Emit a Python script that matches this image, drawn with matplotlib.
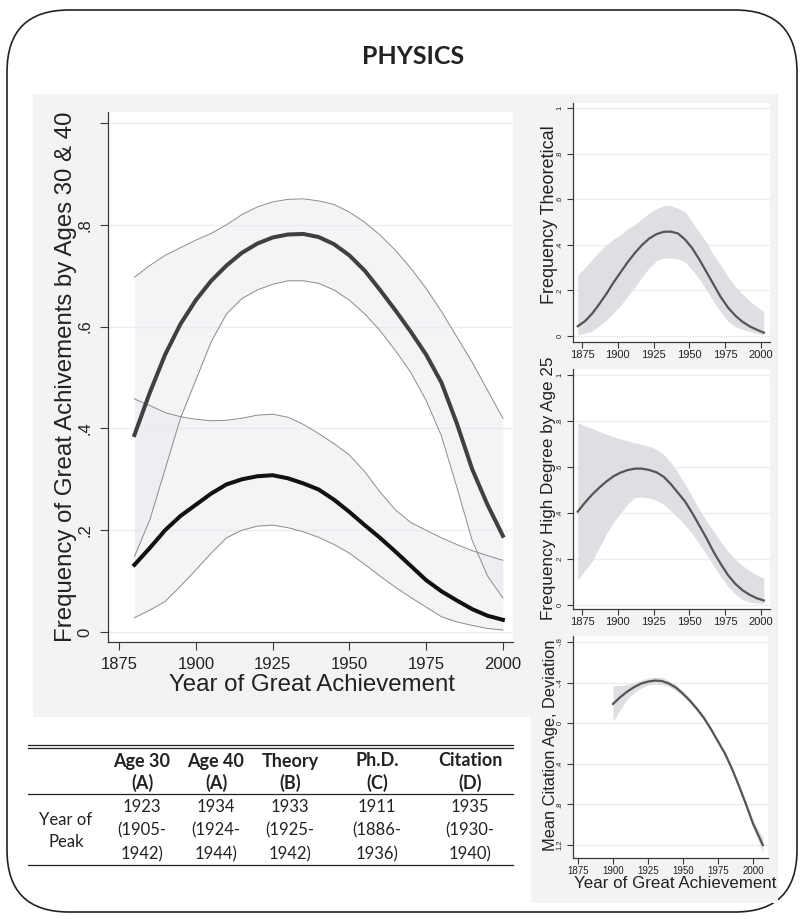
import matplotlib
matplotlib.use("Agg")
import matplotlib.pyplot as plt
from matplotlib.patches import FancyBboxPatch, Polygon

W, H = 802, 919

# ---- panel A: age 30 / age 40 achievement frequency ----
YEARS_A = [1880, 1885, 1890, 1895, 1900, 1905, 1910, 1915, 1920, 1925, 1930, 1935,
           1940, 1945, 1950, 1955, 1960, 1965, 1970, 1975, 1980, 1985, 1990, 1995, 2000]
AGE30_MEAN = [0.132, 0.165, 0.200, 0.228, 0.250, 0.272, 0.290, 0.300, 0.306, 0.308, 0.302, 0.292,
              0.280, 0.260, 0.236, 0.210, 0.185, 0.158, 0.130, 0.102, 0.080, 0.062, 0.045, 0.032, 0.024]
AGE30_HI = [0.458, 0.445, 0.431, 0.423, 0.418, 0.415, 0.416, 0.420, 0.426, 0.428, 0.422, 0.408,
            0.390, 0.370, 0.348, 0.315, 0.275, 0.240, 0.215, 0.200, 0.185, 0.172, 0.160, 0.150, 0.141]
AGE30_LO = [0.028, 0.043, 0.060, 0.090, 0.122, 0.155, 0.185, 0.200, 0.208, 0.210, 0.205, 0.197,
            0.186, 0.172, 0.155, 0.133, 0.110, 0.088, 0.068, 0.049, 0.030, 0.020, 0.013, 0.007, 0.004]
AGE40_MEAN = [0.387, 0.470, 0.545, 0.605, 0.652, 0.690, 0.720, 0.745, 0.763, 0.775, 0.781, 0.782,
              0.776, 0.762, 0.740, 0.710, 0.672, 0.632, 0.590, 0.545, 0.490, 0.410, 0.320, 0.250, 0.189]
AGE40_HI = [0.697, 0.720, 0.740, 0.755, 0.770, 0.783, 0.800, 0.820, 0.835, 0.845, 0.850, 0.851,
            0.847, 0.840, 0.825, 0.805, 0.780, 0.750, 0.715, 0.675, 0.630, 0.580, 0.530, 0.475, 0.420]
AGE40_LO = [0.148, 0.220, 0.320, 0.420, 0.495, 0.570, 0.625, 0.655, 0.672, 0.683, 0.690, 0.690,
            0.685, 0.672, 0.652, 0.625, 0.592, 0.553, 0.510, 0.455, 0.385, 0.285, 0.180, 0.110, 0.067]

# ---- panels B and C share a year grid ----
YEARS_BC = [1872, 1877, 1882, 1887, 1892, 1897, 1902, 1907, 1912, 1917, 1922, 1927, 1932, 1937,
            1942, 1947, 1952, 1957, 1962, 1967, 1972, 1977, 1982, 1987, 1992, 1997, 2002]
THEORY_MEAN = [0.043, 0.065, 0.098, 0.140, 0.185, 0.235, 0.280, 0.325, 0.365, 0.400, 0.428, 0.447, 0.457,
               0.458, 0.450, 0.423, 0.385, 0.335, 0.280, 0.225, 0.170, 0.125, 0.090, 0.063, 0.043, 0.028, 0.015]
THEORY_HI = [0.267, 0.300, 0.335, 0.370, 0.400, 0.425, 0.445, 0.470, 0.490, 0.515, 0.540, 0.558, 0.572,
             0.572, 0.560, 0.545, 0.500, 0.455, 0.410, 0.355, 0.310, 0.260, 0.220, 0.185, 0.155, 0.130, 0.106]
THEORY_LO = [0.006, 0.012, 0.022, 0.045, 0.070, 0.100, 0.135, 0.175, 0.215, 0.260, 0.300, 0.330, 0.342,
             0.342, 0.338, 0.325, 0.290, 0.250, 0.200, 0.150, 0.105, 0.065, 0.040, 0.030, 0.020, 0.012, 0.006]
PHD_MEAN = [0.406, 0.445, 0.480, 0.510, 0.537, 0.560, 0.576, 0.587, 0.593, 0.593, 0.587, 0.577, 0.558,
            0.526, 0.488, 0.450, 0.400, 0.345, 0.290, 0.230, 0.178, 0.130, 0.093, 0.065, 0.045, 0.030, 0.020]
PHD_HI = [0.793, 0.780, 0.768, 0.755, 0.743, 0.732, 0.722, 0.713, 0.705, 0.698, 0.690, 0.678, 0.655,
          0.620, 0.575, 0.525, 0.470, 0.415, 0.365, 0.320, 0.275, 0.235, 0.200, 0.172, 0.150, 0.130, 0.116]
PHD_LO = [0.109, 0.150, 0.190, 0.250, 0.310, 0.360, 0.400, 0.440, 0.468, 0.470, 0.465, 0.455, 0.438,
          0.410, 0.380, 0.347, 0.310, 0.265, 0.220, 0.170, 0.123, 0.080, 0.048, 0.025, 0.013, 0.009, 0.007]

# ---- panel D: citation age deviation (axis drawn reversed) ----
YEARS_D = [1900, 1905, 1910, 1915, 1920, 1925, 1930, 1935, 1940, 1945, 1950, 1955,
           1960, 1965, 1970, 1975, 1980, 1985, 1990, 1995, 2000, 2005, 2007]
CITE_MEAN = [-0.19, -0.255, -0.31, -0.355, -0.39, -0.41, -0.42, -0.415, -0.39, -0.35, -0.29, -0.22,
             -0.14, -0.05, 0.06, 0.18, 0.30, 0.45, 0.62, 0.80, 0.99, 1.14, 1.20]
CITE_LO = [-0.37, -0.37, -0.38, -0.40, -0.425, -0.445, -0.455, -0.45, -0.42, -0.378, -0.315, -0.243,
           -0.16, -0.07, 0.04, 0.16, 0.28, 0.43, 0.60, 0.77, 0.95, 1.08, 1.12]
CITE_HI = [-0.016, -0.13, -0.235, -0.30, -0.345, -0.375, -0.385, -0.38, -0.36, -0.322, -0.265, -0.197,
           -0.12, -0.03, 0.08, 0.20, 0.32, 0.47, 0.64, 0.83, 1.03, 1.20, 1.28]

# ---- table of peak years ----
TABLE_HEAD = ["Age 30", "Age 40", "Theory", "Ph.D.", "Citation"]
TABLE_PANEL = ["(A)", "(A)", "(B)", "(C)", "(D)"]
PEAK_YEAR = ["1923", "1934", "1933", "1911", "1935"]
PEAK_LO = ["1905", "1924", "1925", "1886", "1930"]
PEAK_HI = ["1942", "1944", "1942", "1936", "1940"]

STATA_FONT = "Liberation Sans"
TABLE_FONT = "Lato"
BAND = "#e8eaee"
SMALL_BAND = "#dedfe2"
GRID = "#ececec"
AXIS = "#3a3a3a"


def px_rect(l, t, r, b):
    return [l / W, 1 - b / H, (r - l) / W, (b - t) / H]


def style_axes(ax, tick_len, tick_size, ytick_size, xpad, ypad):
    ax.set_facecolor("white")
    for side in ("top", "right"):
        ax.spines[side].set_visible(False)
    for side in ("left", "bottom"):
        ax.spines[side].set_color(AXIS)
        ax.spines[side].set_linewidth(0.9)
    ax.tick_params(axis="both", direction="out", length=tick_len, width=0.8, color=AXIS)
    ax.tick_params(axis="x", labelsize=tick_size, pad=xpad)
    ax.tick_params(axis="y", labelsize=ytick_size, pad=ypad)
    for lab in ax.get_yticklabels():
        lab.set_rotation(90)
        lab.set_va("center")
    for lab in ax.get_xticklabels() + ax.get_yticklabels():
        lab.set_family(STATA_FONT)
        lab.set_color("#222222")
    ax.grid(axis="y", color=GRID, linewidth=0.9)
    ax.set_axisbelow(True)


def small_panel(fig, rect, years, mean, lo, hi, xlim, ylim, yticks, ylabels):
    ax = fig.add_axes(px_rect(*rect))
    ax.fill_between(years, lo, hi, color=SMALL_BAND, linewidth=0, zorder=2)
    ax.plot(years, mean, color="#555555", linewidth=1.6, zorder=3)
    ax.set_xlim(*xlim)
    ax.set_ylim(*ylim)
    ax.set_xticks([1875, 1900, 1925, 1950, 1975, 2000])
    ax.set_yticks(yticks)
    ax.set_yticklabels(ylabels)
    return ax


def main():
    fig = plt.figure(figsize=(W / 100, H / 100), dpi=100)
    bg = fig.add_axes([0, 0, 1, 1])
    bg.set_xlim(0, W)
    bg.set_ylim(H, 0)
    bg.axis("off")

    bg.add_patch(FancyBboxPatch((7, 10), 790, 902, boxstyle="round,pad=0,rounding_size=62",
                                facecolor="white", edgecolor="#222222", linewidth=1.2))
    bg.add_patch(Polygon([(33, 94), (778, 94), (778, 903), (531, 903), (531, 717), (33, 717)],
                         closed=True, facecolor="#f3f3f3", edgecolor="none"))
    bg.text(413, 57, "PHYSICS", ha="center", va="center", fontsize=18,
            fontweight="bold", family=TABLE_FONT, color="#222222")

    # ---- panel A ----
    ax = fig.add_axes(px_rect(108, 112, 513, 642))
    ax.fill_between(YEARS_A, AGE40_LO, AGE40_HI, color=BAND, alpha=0.5, linewidth=0, zorder=2)
    ax.fill_between(YEARS_A, AGE30_LO, AGE30_HI, color=BAND, alpha=0.5, linewidth=0, zorder=2)
    for s in (AGE40_LO, AGE40_HI, AGE30_LO, AGE30_HI):
        ax.plot(YEARS_A, s, color="#8c8c8c", linewidth=0.7, zorder=3)
    ax.plot(YEARS_A, AGE40_MEAN, color="#404040", linewidth=2.9, zorder=4)
    ax.plot(YEARS_A, AGE30_MEAN, color="#111111", linewidth=2.9, zorder=4)
    ax.set_xlim(1871.4, 2003.3)
    ax.set_ylim(-0.0196, 1.0216)
    ax.set_xticks([1875, 1900, 1925, 1950, 1975, 2000])
    ax.set_yticks([0, 0.2, 0.4, 0.6, 0.8, 1.0])
    ax.set_yticklabels(["0", ".2", ".4", ".6", ".8", ""])
    style_axes(ax, 6, 12, 12, 5, 5)
    bg.text(66, 377, "Frequency of Great Achivements by Ages 30 & 40", rotation=90,
            ha="center", va="center", fontsize=17.3, family=STATA_FONT, color="#222222")
    bg.text(312, 685, "Year of Great Achievement", ha="center", va="center",
            fontsize=17.3, family=STATA_FONT, color="#222222")
    bg.text(487, 141, "A", ha="center", va="center", fontsize=24, family=STATA_FONT, color="#111111")

    # ---- panel B ----
    yt = [0, 0.2, 0.4, 0.6, 0.8, 1.0]
    yl = ["0", ".2", ".4", ".6", ".8", "1"]
    axb = small_panel(fig, (573, 103, 770, 342), YEARS_BC, THEORY_MEAN, THEORY_LO, THEORY_HI,
                      (1868.7, 2006.3), (-0.026, 1.022), yt, yl)
    style_axes(axb, 4, 8, 5.5, 2, 3)
    bg.text(549, 215, "Frequency Theoretical", rotation=90, ha="center", va="center",
            fontsize=13, family=STATA_FONT, color="#222222")
    bg.text(742, 131, "B", ha="center", va="center", fontsize=22, family=STATA_FONT, color="#111111")

    # ---- panel C ----
    axc = small_panel(fig, (573, 369, 770, 609), YEARS_BC, PHD_MEAN, PHD_LO, PHD_HI,
                      (1868.7, 2006.3), (-0.017, 1.026), yt, yl)
    style_axes(axc, 4, 8, 5.5, 2, 3)
    bg.text(549, 488, "Frequency High Degree by Age 25", rotation=90, ha="center", va="center",
            fontsize=12.3, family=STATA_FONT, color="#222222")
    bg.text(743, 399, "C", ha="center", va="center", fontsize=22, family=STATA_FONT, color="#111111")

    # ---- panel D (reversed y axis) ----
    axd = small_panel(fig, (573, 636, 768, 858), YEARS_D, CITE_MEAN, CITE_LO, CITE_HI,
                      (1871.4, 2010.7), (1.328, -0.859),
                      [-0.8, -0.4, 0, 0.4, 0.8, 1.2], ["-.8", "-.4", "0", ".4", ".8", "1.2"])
    style_axes(axd, 4, 7, 5.5, 2, 3)
    bg.text(550, 745, "Mean Citation Age, Deviation", rotation=90, ha="center", va="center",
            fontsize=11.8, family=STATA_FONT, color="#222222")
    bg.text(675, 884, "Year of Great Achievement", ha="center", va="center",
            fontsize=12.2, family=STATA_FONT, color="#222222")
    bg.text(743, 665, "D", ha="center", va="center", fontsize=22, family=STATA_FONT, color="#111111")

    # ---- table ----
    col_x = [142, 216, 290, 377, 470]
    bg.plot([28, 513], [745, 745], color="#222222", linewidth=0.9)
    bg.plot([28, 513], [748, 748], color="#222222", linewidth=0.9)
    bg.plot([28, 513], [794, 794], color="#222222", linewidth=0.9)
    bg.plot([28, 513], [865, 865], color="#222222", linewidth=0.9)
    for x, head, pan, yr, lo, hi in zip(col_x, TABLE_HEAD, TABLE_PANEL, PEAK_YEAR, PEAK_LO, PEAK_HI):
        bg.text(x, 761, head, ha="center", va="center", fontsize=13, fontweight="bold",
                family=TABLE_FONT, color="#222222")
        bg.text(x, 783, pan, ha="center", va="center", fontsize=13, fontweight="bold",
                family=TABLE_FONT, color="#222222")
        bg.text(x, 807, yr, ha="center", va="center", fontsize=12, family=TABLE_FONT, color="#222222")
        bg.text(x, 830, f"({lo}-", ha="center", va="center", fontsize=12,
                family=TABLE_FONT, color="#222222")
        bg.text(x, 854, f"{hi})", ha="center", va="center", fontsize=12,
                family=TABLE_FONT, color="#222222")
    bg.text(66, 820, "Year of", ha="center", va="center", fontsize=12, family=TABLE_FONT, color="#222222")
    bg.text(66, 842, "Peak", ha="center", va="center", fontsize=12, family=TABLE_FONT, color="#222222")

    fig.savefig("out.png", dpi=100)
    plt.close(fig)


if __name__ == "__main__":
    main()
